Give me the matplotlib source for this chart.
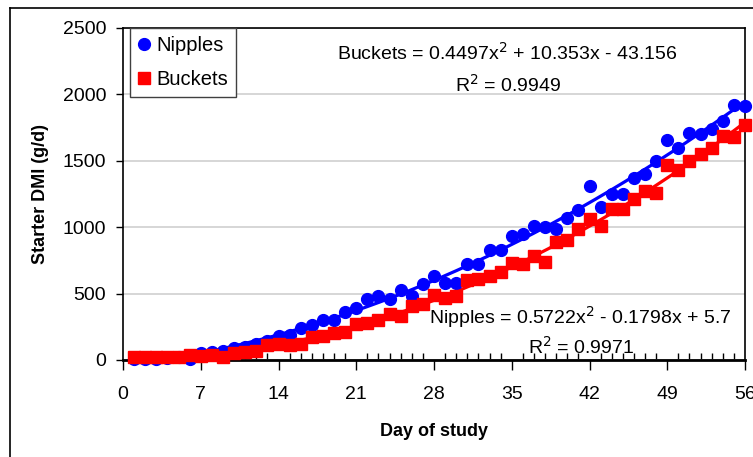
import numpy as np
import matplotlib.pyplot as plt
from matplotlib.lines import Line2D
from matplotlib.ticker import MultipleLocator

plt.rcParams['font.family'] = ['Liberation Sans', 'DejaVu Sans']

# Daily starter intake, g/d
days = list(range(1, 57))
nipples = [10, 5, 5, 15, 20, 10, 50, 60, 70, 90, 100, 120, 140, 180, 190, 240,
           260, 300, 300, 360, 390, 460, 480, 460, 530, 480, 570, 630, 580, 580,
           720, 720, 830, 830, 930, 950, 1010, 1000, 990, 1070, 1130, 1310, 1150,
           1250, 1250, 1370, 1400, 1500, 1660, 1600, 1710, 1700, 1740, 1800, 1920, 1910]
buckets = [20, 20, 20, 25, 20, 40, 30, 40, 20, 50, 60, 70, 110, 120, 110, 120,
           170, 180, 200, 210, 270, 280, 300, 350, 330, 410, 420, 490, 470, 480,
           600, 610, 630, 660, 730, 720, 780, 740, 890, 900, 990, 1060, 1010, 1140,
           1140, 1210, 1270, 1260, 1470, 1430, 1500, 1550, 1600, 1690, 1680, 1770]

# trend line coefficients as printed on the chart
blue_fit = [0.4497, 10.353, -43.156]
red_fit = [0.5722, -0.1798, 5.7]

fig = plt.figure(figsize=(7.53, 4.57), dpi=100)
ax = fig.add_axes([123 / 753, 1 - 360 / 457, 622 / 753, 332 / 457])

# outer chart frame (only top and left edges are visible)
fig.add_artist(Line2D([10 / 753, 10 / 753], [0, 1 - 8 / 457], transform=fig.transFigure,
                      color='black', linewidth=1.2))
fig.add_artist(Line2D([10 / 753, 1], [1 - 8 / 457, 1 - 8 / 457], transform=fig.transFigure,
                      color='black', linewidth=1.2))

xs = np.linspace(1, 56, 200)
ax.plot(xs, np.polyval(blue_fit, xs), color='#0000FF', linewidth=2.3, zorder=3)
ax.plot(xs, np.polyval(red_fit, xs), color='#FF0000', linewidth=2.3, zorder=3)

ax.plot(days, nipples, 'o', color='#0000FF', markersize=8.5, label='Nipples', zorder=4, clip_on=False)
ax.plot(days, buckets, 's', color='#FF0000', markersize=8.5, label='Buckets', zorder=4, clip_on=False)

ax.set_xlim(0, 56)
ax.set_ylim(0, 2500)
ax.xaxis.set_major_locator(MultipleLocator(7))
ax.xaxis.set_minor_locator(MultipleLocator(1))
ax.yaxis.set_major_locator(MultipleLocator(500))
ax.yaxis.grid(True, color='#D0D0D0', linewidth=1.2)
ax.set_axisbelow(True)

ax.tick_params(axis='x', which='major', direction='out', length=7, width=1, labelsize=14, pad=12)
ax.tick_params(axis='x', which='minor', direction='in', length=5, width=1)
ax.tick_params(axis='y', which='major', direction='out', length=5, width=1, labelsize=14, pad=7)

for side in ['top', 'right', 'left']:
    ax.spines[side].set_linewidth(1.2)
ax.spines['bottom'].set_linewidth(2)

ax.set_xlabel('Day of study', fontsize=13, fontweight='bold', labelpad=14)
ax.set_ylabel('Starter DMI (g/d)', fontsize=13, fontweight='bold', labelpad=10)

eq_font = 14
ax.text(0.617, 0.925, 'Buckets = 0.4497x$^2$ + 10.353x - 43.156', transform=ax.transAxes,
        ha='center', va='center', fontsize=eq_font)
ax.text(0.62, 0.83, 'R$^2$ = 0.9949', transform=ax.transAxes,
        ha='center', va='center', fontsize=eq_font)
ax.text(0.735, 0.13, 'Nipples = 0.5722x$^2$ - 0.1798x + 5.7', transform=ax.transAxes,
        ha='center', va='center', fontsize=eq_font)
ax.text(0.737, 0.04, 'R$^2$ = 0.9971', transform=ax.transAxes,
        ha='center', va='center', fontsize=eq_font)

leg = ax.legend(loc='upper left', bbox_to_anchor=(0.011, 1.0), fontsize=14.5,
                handlelength=0.6, handletextpad=0.3, borderpad=0.4,
                labelspacing=0.75, fancybox=False, framealpha=1, borderaxespad=0)
leg.get_frame().set_edgecolor('#404040')
leg.get_frame().set_linewidth(1)

fig.savefig('out.png', dpi=100)
